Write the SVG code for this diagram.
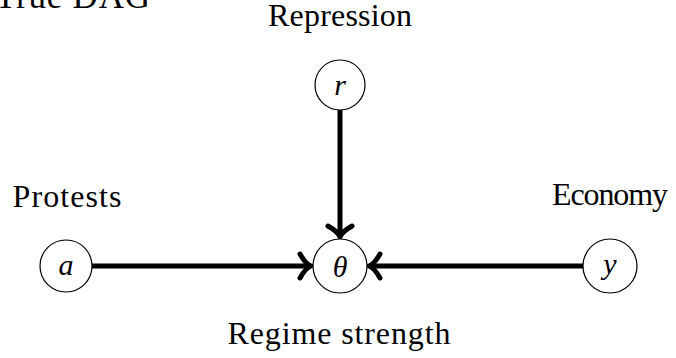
<svg xmlns="http://www.w3.org/2000/svg" width="676" height="358" viewBox="0 0 676 358">
<defs>
<style>
text{font-family:"Liberation Serif","Times New Roman",serif;fill:#000}
.lbl{font-size:32px;text-anchor:middle}
.math{font-style:italic;font-size:30px;text-anchor:middle;dominant-baseline:central}
.node circle{fill:#fff;stroke:#000;stroke-width:1.2}
.edge{stroke:#000;stroke-width:5;fill:none}
</style>
<marker id="arr" markerUnits="userSpaceOnUse" orient="auto" markerWidth="30" markerHeight="30" refX="0" refY="0" viewBox="-16 -15 20 30" overflow="visible">
<path d="M -11,-12 C -7,-5 -3,-1 0,0 C -3,1 -7,5 -11,12" fill="none" stroke="#000" stroke-width="5" stroke-linecap="round" stroke-linejoin="round"/>
</marker>
</defs>
<text font-family="Liberation Serif, serif" x="-5" y="8" font-size="35" textLength="155">True DAG</text>
<g id="connectors">
<line class="edge" x1="92" y1="266" x2="311" y2="266" marker-end="url(#arr)"/>
<line class="edge" x1="583" y1="266" x2="369" y2="266" marker-end="url(#arr)"/>
<line class="edge" x1="340" y1="110" x2="340" y2="237" marker-end="url(#arr)"/>
</g>
<g id="node-r" class="node">
<circle cx="340" cy="85" r="25"/>
<text class="math" font-family="Liberation Serif, serif" x="340" y="84">r</text>
<text class="lbl" font-family="Liberation Serif, serif" x="340" y="26" font-size="32" textLength="144">Repression</text>
</g>
<g id="node-a" class="node">
<circle cx="66" cy="266" r="26"/>
<text class="math" font-family="Liberation Serif, serif" x="66" y="264">a</text>
<text class="lbl" font-family="Liberation Serif, serif" x="67" y="207" font-size="33" textLength="109">Protests</text>
</g>
<g id="node-theta" class="node">
<circle cx="340" cy="266" r="27"/>
<text class="math" font-family="Liberation Serif, serif" x="340" y="266">θ</text>
<text class="lbl" font-family="Liberation Serif, serif" x="339" y="344" font-size="33" textLength="223">Regime strength</text>
</g>
<g id="node-y" class="node">
<circle cx="610" cy="266" r="27"/>
<text class="math" font-family="Liberation Serif, serif" x="610" y="263">y</text>
<text class="lbl" font-family="Liberation Serif, serif" x="610" y="205" font-size="31" textLength="116">Economy</text>
</g>
</svg>
